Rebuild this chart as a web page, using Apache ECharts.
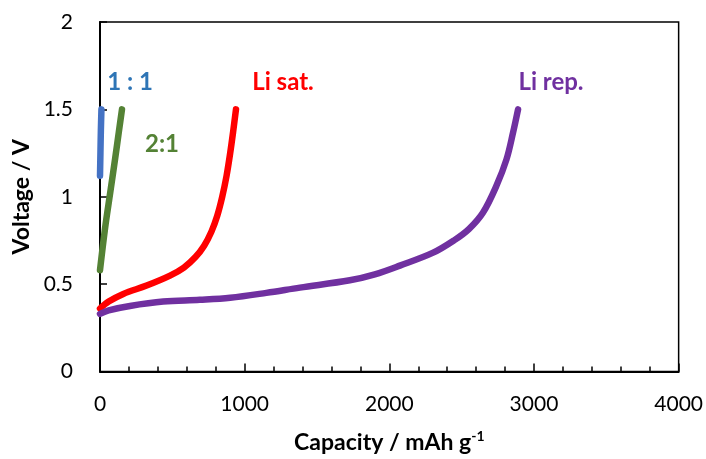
<!DOCTYPE html>
<html><head><meta charset="utf-8">
<script src="https://cdn.jsdelivr.net/npm/echarts@6/dist/echarts.min.js"></script>
<style>html,body{margin:0;padding:0;background:#fff}#c{width:706px;height:459px}</style>
</head><body><div id="c"></div>
<script>
// Data: [capacity (mAh/g), voltage (V)]
const ratio11 = [[0,1.12],[3,1.25],[6,1.38],[10,1.5]];
const ratio21 = [[0,0.58],[35,0.82],[70,1.02],[105,1.22],[130,1.37],[152,1.5]];
const liSat = [[0,0.36],[60,0.40],[161,0.444],[322,0.492],[484,0.549],[580,0.595],[660,0.655],[720,0.72],[770,0.80],[810,0.89],[845,1.00],[875,1.12],[900,1.25],[920,1.37],[940,1.50]];
const liRep = [[0,0.33],[60,0.35],[207,0.375],[437,0.400],[690,0.410],[900,0.422],[1150,0.450],[1382,0.480],[1727,0.522],[1900,0.556],[2073,0.606],[2303,0.680],[2450,0.752],[2550,0.815],[2648,0.910],[2740,1.062],[2810,1.214],[2855,1.366],[2890,1.5]];
const xTicks = [0,1000,2000,3000,4000];
const yTicks = [0,0.5,1,1.5,2];
const seriesNames = ['1 : 1','2:1','Li sat.','Li rep.'];

const font = 'Lato, "Open Sans", "Liberation Sans", sans-serif';
const chart = echarts.init(document.getElementById('c'));
const colors = ['#4472C4','#548235','#FF0000','#7030A0'];
const labelColors = ['#2E75B6','#548235','#FF0000','#7030A0'];
const datas = [ratio11, ratio21, liSat, liRep];
const labelPos = [[130,82],[162,144],[283,82],[551,82]];

chart.setOption({
  animation:false,
  grid:{left:100,right:27,top:22,bottom:86,show:true,borderColor:'#000',borderWidth:1.5,backgroundColor:'transparent'},
  xAxis:{
    type:'value',min:xTicks[0],max:xTicks[xTicks.length-1],interval:1000,
    axisLine:{show:true,onZero:false,lineStyle:{color:'#000',width:2}},
    axisTick:{show:true,inside:true,length:8,lineStyle:{color:'#000',width:1.5}},
    minorTick:{show:true,splitNumber:5,length:5,lineStyle:{color:'#000',width:1.5}},
    splitLine:{show:false},
    axisLabel:{color:'#000',fontSize:21,fontFamily:font,margin:22,formatter:v=>String(v)},
    name:'{a|Capacity / mAh g}{s|-1}',nameLocation:'middle',nameGap:58,
    nameTextStyle:{rich:{a:{fontSize:23,fontWeight:'bold',fontFamily:font,color:'#000'},s:{fontSize:14,fontWeight:'bold',fontFamily:font,color:'#000',verticalAlign:'top',padding:[0,0,12,0]}}}
  },
  yAxis:{
    type:'value',min:yTicks[0],max:yTicks[yTicks.length-1],interval:0.5,
    axisLine:{show:true,onZero:false,lineStyle:{color:'#000',width:2}},
    axisTick:{show:true,inside:true,length:7,lineStyle:{color:'#000',width:1.5}},
    splitLine:{show:false},
    axisLabel:{color:'#000',fontSize:21,fontFamily:font,margin:27,formatter:v=>String(v)},
    name:'Voltage / V',nameLocation:'middle',nameGap:64,
    nameTextStyle:{fontSize:23,fontWeight:'bold',fontFamily:font,color:'#000'}
  },
  series: datas.map((d,i)=>({
    type:'line',name:seriesNames[i],data:d,smooth:0.35,showSymbol:false,
    lineStyle:{color:colors[i],width:6.5,cap:'round',join:'round'},z:2+i
  })),
  graphic: seriesNames.map((n,i)=>({
    type:'text',x:labelPos[i][0],y:labelPos[i][1],
    style:{text:n,fill:labelColors[i],font:'bold 24px '+font,textAlign:'center',textVerticalAlign:'middle'}
  }))
});
</script></body></html>
